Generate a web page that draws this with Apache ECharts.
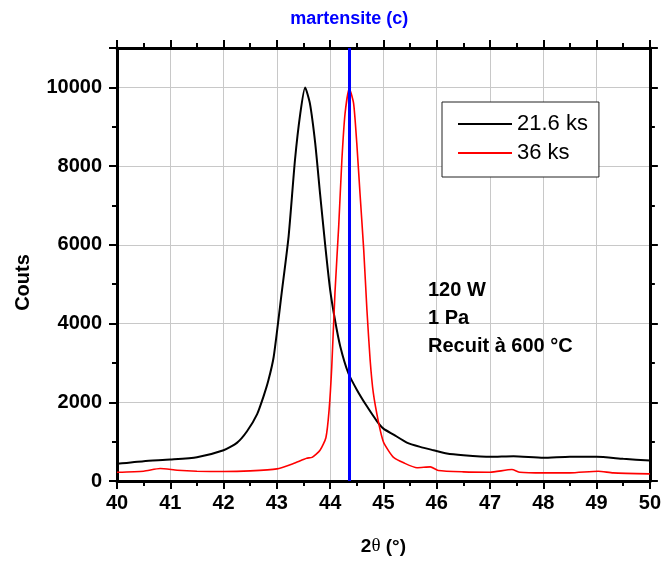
<!DOCTYPE html>
<html>
<head>
    <meta charset="UTF-8">
    <title>martensite (c)</title>
    <script src="https://cdn.jsdelivr.net/npm/echarts@6/dist/echarts.min.js"></script>
    <style>
        html, body {margin: 0; padding: 0; background: #fff;}
        #chart {width: 664px; height: 561px;}
    </style>
</head>
<body>
    <div id="chart"></div>

    <script>
        // 21.6 ks (noir)
        const blackX = [40.0, 40.5, 41.0, 41.5, 42.0, 42.25, 42.44, 42.63, 42.75, 42.84, 42.94, 43.09, 43.22, 43.34, 43.44, 43.53,
            43.62, 43.72, 43.81, 43.91, 44.0, 44.09, 44.19, 44.34, 44.5, 44.69, 44.88, 45.0, 45.19, 45.44, 45.69, 45.94,
            46.19, 46.5, 47.0, 47.44, 48.0, 48.5, 49.0, 49.5, 50.0];
        const blackY = [436, 503, 545, 604, 781, 968, 1263, 1700, 2150, 2550, 3150, 4773, 6209, 8154, 9338, 9997,
            9592, 8577, 7309, 5955, 4857, 4096, 3419, 2744, 2321, 1897, 1517, 1330, 1179, 976, 867, 781,
            697, 654, 614, 630, 588, 614, 614, 563, 520];

        // 36 ks (rouge)
        const redX = [40.0, 40.5, 40.81, 41.13, 41.5, 42.0, 42.5, 43.0, 43.31, 43.56, 43.66, 43.81, 43.92, 43.98, 44.03, 44.09,
            44.16, 44.22, 44.28, 44.36, 44.44, 44.5, 44.56, 44.63, 44.69, 44.75, 44.81, 44.91, 45.0, 45.1, 45.19, 45.38,
            45.63, 45.88, 46.03, 46.5, 47.0, 47.41, 47.56, 48.0, 48.5, 49.03, 49.31, 50.0];
        const redY = [223, 249, 317, 274, 249, 240, 257, 308, 444, 579, 600, 780, 1100, 1800, 2900, 4773,
            6463, 8154, 9338, 9972, 9592, 8577, 7309, 5871, 4350, 3081, 2237, 1476, 990, 760, 600, 461,
            335, 360, 266, 232, 223, 292, 223, 206, 206, 249, 206, 181];

        const seriesNames = ['21.6 ks', '36 ks'];
        const martensitePos = 44.36;
        const noteLines = ['120 W', '1 Pa', 'Recuit à 600 °C'];

        const font = 'Liberation Sans, Arial, sans-serif';

        const tickStyle = {
            axisLine: { show: true, onZero: false, lineStyle: { color: '#000', width: 3 } },
            axisTick: { show: true, inside: false, length: 8, lineStyle: { color: '#000', width: 2 } },
            minorTick: { show: true, splitNumber: 2, length: 5, lineStyle: { color: '#000', width: 2 } }
        };

        const chart = echarts.init(document.getElementById('chart'));
        chart.setOption({
            animation: false,
            backgroundColor: '#fff',
            grid: { left: 117, right: 14, top: 48, bottom: 80 },
            legend: {
                data: seriesNames,
                orient: 'vertical',
                left: 442, top: 102,
                icon: 'rect',
                itemWidth: 54, itemHeight: 2, itemGap: 7,
                padding: [11, 11, 13, 16],
                borderColor: '#222', borderWidth: 1,
                backgroundColor: '#fff',
                textStyle: { fontSize: 22, fontFamily: font, color: '#000', lineHeight: 22 }
            },
            xAxis: [
                Object.assign({
                    type: 'value', min: 40, max: 50, interval: 1, position: 'bottom',
                    axisLabel: { fontSize: 20, fontWeight: 'bold', color: '#000', margin: 12, fontFamily: font },
                    splitLine: { show: true, lineStyle: { color: '#c8c8c8', width: 1 } },
                    name: '{a|2}{t|θ}{a| (°)}',
                    nameLocation: 'middle', nameGap: 56,
                    nameTextStyle: {
                        rich: {
                            a: { fontSize: 19, fontWeight: 'bold', color: '#000', fontFamily: font },
                            t: { fontSize: 19, color: '#000', fontFamily: 'Liberation Serif, serif' }
                        }
                    }
                }, tickStyle),
                Object.assign({
                    type: 'value', min: 40, max: 50, interval: 1, position: 'top',
                    axisLabel: { show: false }, splitLine: { show: false }
                }, tickStyle)
            ],
            yAxis: [
                Object.assign({
                    type: 'value', min: 0, max: 11000, interval: 2000, position: 'left',
                    axisLabel: {
                        fontSize: 20, fontWeight: 'bold', color: '#000', margin: 15, fontFamily: font,
                        showMaxLabel: false, formatter: v => String(v)
                    },
                    splitLine: { show: true, lineStyle: { color: '#c8c8c8', width: 1 } },
                    name: 'Couts',
                    nameLocation: 'middle', nameGap: 84, nameRotate: 90,
                    nameTextStyle: { fontSize: 20, fontWeight: 'bold', color: '#000', fontFamily: font, padding: [0, 36, 0, 0] }
                }, tickStyle),
                Object.assign({
                    type: 'value', min: 0, max: 11000, interval: 2000, position: 'right',
                    axisLabel: { show: false }, splitLine: { show: false }
                }, tickStyle)
            ],
            series: [
                {
                    name: seriesNames[0],
                    type: 'line',
                    data: blackX.map((x, i) => [x, blackY[i]]),
                    symbol: 'none',
                    smooth: 0.2,
                    lineStyle: { color: '#000', width: 2 },
                    itemStyle: { color: '#000' },
                    z: 3
                },
                {
                    name: seriesNames[1],
                    type: 'line',
                    data: redX.map((x, i) => [x, redY[i]]),
                    symbol: 'none',
                    smooth: 0.2,
                    lineStyle: { color: '#ff0000', width: 1.6 },
                    itemStyle: { color: '#ff0000' },
                    z: 4,
                    markLine: {
                        silent: true,
                        symbol: 'none',
                        lineStyle: { color: '#0000ff', width: 3, type: 'solid' },
                        label: {
                            show: true, position: 'end', distance: 20,
                            formatter: 'martensite (c)',
                            color: '#0000ff', fontWeight: 'bold', fontSize: 18, fontFamily: font
                        },
                        data: [{ xAxis: martensitePos }]
                    }
                }
            ],
            graphic: [{
                type: 'text',
                left: 428, top: 276,
                z: 10,
                style: {
                    text: noteLines.join('\n'),
                    font: 'bold 20px ' + font,
                    lineHeight: 28,
                    fill: '#000'
                }
            }]
        });
    </script>
</body>
</html>
